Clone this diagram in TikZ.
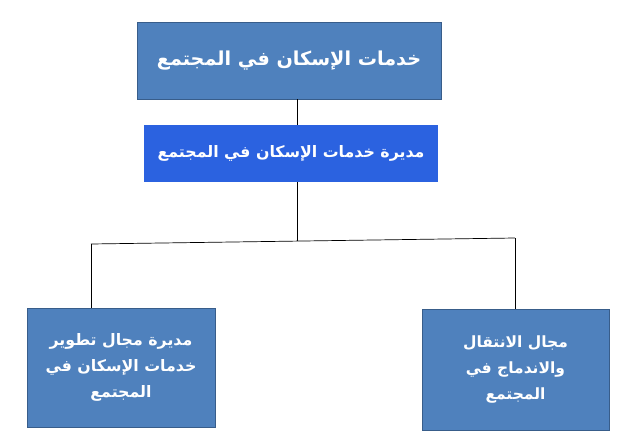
\documentclass[tikz,border=0pt]{standalone}
\usepackage{fontspec}
\usepackage{tikz}
\usetikzlibrary{calc}
\TeXXeTstate=1
\newfontfamily\arabicfont[Script=Arabic]{DejaVu Sans}
\definecolor{boxblue}{RGB}{79,129,189}
\definecolor{boxedge}{RGB}{56,93,138}
\definecolor{dirblue}{RGB}{43,98,224}

\begin{document}
\begin{tikzpicture}[x=1pt,y=-1pt,
  unit/.style={draw=boxedge, line width=0.8pt, fill=boxblue, text=white, align=center,
    inner sep=0pt, font=\arabicfont\bfseries},
  dir/.style={unit, draw=none, fill=dirblue},
  link/.style={draw=black, line width=0.7pt}]
\useasboundingbox (0,0) rectangle (625,445);

\node[unit, minimum width=304pt, minimum height=77pt, font=\arabicfont\bfseries\fontsize{19.2}{22}\selectfont]
  (services) at (289,60.5) {\beginR خدمات الإسكان في المجتمع\endR};
\node[dir, minimum width=294pt, minimum height=57pt, font=\arabicfont\bfseries\fontsize{15.8}{18}\selectfont]
  (directorate) at (291,153.5) {\beginR مديرة خدمات الإسكان في المجتمع\endR};

\node[unit, minimum width=188pt, minimum height=119pt, font=\arabicfont\bfseries\fontsize{15.8}{26}\selectfont]
  (develop) at (121,367.5) {\beginR مديرة مجال تطوير\endR\\ \beginR خدمات الإسكان في\endR\\ \beginR المجتمع\endR};
\node[unit, minimum width=187pt, minimum height=121pt, font=\arabicfont\bfseries\fontsize{15.5}{26}\selectfont]
  (transition) at (515.5,369.5) {\beginR مجال الانتقال\endR\\ \beginR والاندماج في\endR\\ \beginR المجتمع\endR};

% tree lines
\coordinate (jm) at (297,241);
\coordinate (jl) at (91,244);
\coordinate (jr) at (515,238);
\draw[link] (services.south -| jm) -- (directorate.north -| jm);
\draw[link] (directorate.south -| jm) -- (jm);
\draw[link] (jl) -- (jr);
\draw[link] (jl) -- (develop.north -| jl);
\draw[link] (jr) -- (transition.north -| jr);
\end{tikzpicture}
\end{document}
